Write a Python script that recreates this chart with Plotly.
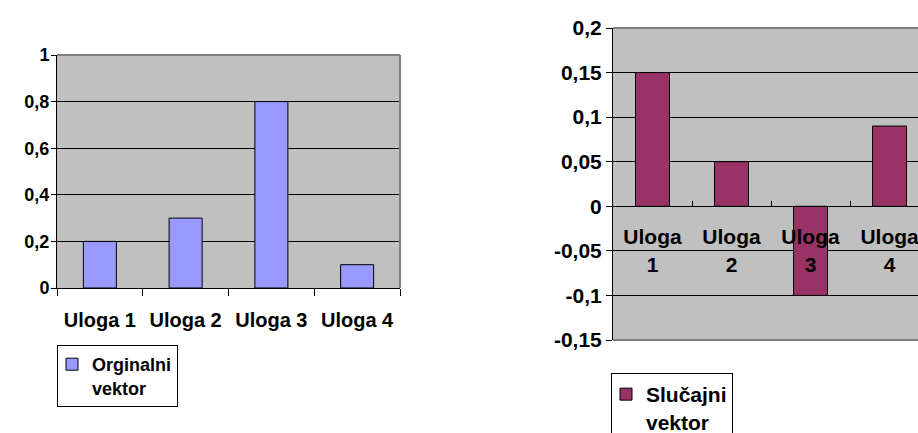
import plotly.graph_objects as go

# ---- data ----
categories = ["Uloga 1", "Uloga 2", "Uloga 3", "Uloga 4"]
original_values = [0.2, 0.3, 0.8, 0.1]
random_values = [0.15, 0.05, -0.1, 0.09]
right_category_labels = ["Uloga<br>1", "Uloga<br>2", "Uloga<br>3", "Uloga<br>4"]

left_ytick_vals = [0, 0.2, 0.4, 0.6, 0.8, 1]
left_ytick_text = ["0", "0,2", "0,4", "0,6", "0,8", "1"]
right_ytick_vals = [-0.15, -0.1, -0.05, 0, 0.05, 0.1, 0.15, 0.2]
right_ytick_text = ["-0,15", "-0,1", "-0,05", "0", "0,05", "0,1", "0,15", "0,2"]

# ---- layout geometry (pixels) ----
W, H = 918, 433
FONT = "Arial, 'Liberation Sans', sans-serif"

def xdom(a, b):
    return [a / W, b / W]

def ydom(top, bottom):
    return [1 - bottom / H, 1 - top / H]

L_X = xdom(57, 400)
L_Y = ydom(55, 288)
R_X = xdom(613, 918)
R_Y = ydom(28, 340)
R_RANGE_Y = [-0.15, 0.2]
# paper position of the zero line in the right chart
zero_pos = R_Y[0] + (0 - R_RANGE_Y[0]) / (R_RANGE_Y[1] - R_RANGE_Y[0]) * (R_Y[1] - R_Y[0])

fig = go.Figure()

fig.add_trace(go.Bar(
    x=categories, y=original_values, name="Orginalni<br>vektor",
    marker=dict(color="#9999FF", line=dict(color="black", width=1)),
    width=0.385, xaxis="x", yaxis="y", legend="legend", showlegend=True,
))
fig.add_trace(go.Bar(
    x=categories, y=random_values, name="Slučajni<br>vektor",
    marker=dict(color="#993366", line=dict(color="black", width=1)),
    width=0.43, xaxis="x2", yaxis="y2", legend="legend2", showlegend=True,
))

tick_font_l = dict(family=FONT, size=20, color="black", weight="bold")
ytick_font_l = dict(family=FONT, size=18, color="black", weight="bold")
tick_font_r = dict(family=FONT, size=21, color="black", weight="bold")

border = dict(color="#808080", width=2)
shapes = [
    dict(type="line", xref="x domain", yref="y domain", x0=0, x1=1, y0=1, y1=1, line=border, layer="above"),
    dict(type="line", xref="x domain", yref="y domain", x0=1, x1=1, y0=0, y1=1, line=border, layer="above"),
    dict(type="line", xref="x2 domain", yref="y2 domain", x0=0, x1=1, y0=1, y1=1, line=border, layer="above"),
    dict(type="line", xref="x2 domain", yref="y2 domain", x0=0, x1=1, y0=0, y1=0, line=border, layer="above"),
]

fig.update_layout(
    width=W, height=H,
    margin=dict(l=0, r=0, t=0, b=0, autoexpand=False),
    showlegend=True,
    paper_bgcolor="white",
    plot_bgcolor="#C0C0C0",
    font=dict(family=FONT, color="black"),
    barmode="group",
    shapes=shapes,
    xaxis=dict(
        domain=L_X, anchor="y", type="category", range=[-0.5, 3.5],
        showline=True, linecolor="black", linewidth=1,
        ticks="outside", ticklen=7, tickcolor="black", tickwidth=1,
        tickson="boundaries", showgrid=False, tickfont=tick_font_l,
        ticklabelstandoff=14,
    ),
    yaxis=dict(
        domain=L_Y, anchor="x", range=[0, 1],
        tickvals=left_ytick_vals, ticktext=left_ytick_text,
        showgrid=True, gridcolor="black", gridwidth=1, zeroline=False,
        showline=True, linecolor="black", linewidth=1,
        ticks="outside", ticklen=5, tickcolor="black", tickfont=ytick_font_l,
        ticklabelstandoff=-2,
    ),
    xaxis2=dict(
        domain=R_X, anchor="free", position=zero_pos, type="category",
        range=[-0.5, 3.36], tickvals=categories, ticktext=right_category_labels,
        showline=True, linecolor="black", linewidth=1,
        ticks="inside", ticklen=5, tickcolor="black", tickwidth=1,
        tickson="boundaries", showgrid=False, tickfont=tick_font_r,
        ticklabelstandoff=12,
    ),
    yaxis2=dict(
        domain=R_Y, anchor="x2", range=R_RANGE_Y,
        tickvals=right_ytick_vals, ticktext=right_ytick_text,
        showgrid=True, gridcolor="black", gridwidth=1, zeroline=False,
        showline=True, linecolor="black", linewidth=1,
        ticks="outside", ticklen=6, tickcolor="black", tickfont=tick_font_r,
    ),
    legend=dict(
        x=57 / W, y=1 - 345 / H, xanchor="left", yanchor="top",
        bordercolor="black", borderwidth=1, bgcolor="white",
        font=dict(family=FONT, size=18, color="black", weight="bold"),
        valign="top", indentation=-6,
    ),
    legend2=dict(
        x=611 / W, y=1 - 373 / H, xanchor="left", yanchor="top",
        bordercolor="black", borderwidth=1, bgcolor="white",
        font=dict(family=FONT, size=21, color="black", weight="bold"),
        valign="top", indentation=-6,
    ),
)

fig.write_html("out.html")
